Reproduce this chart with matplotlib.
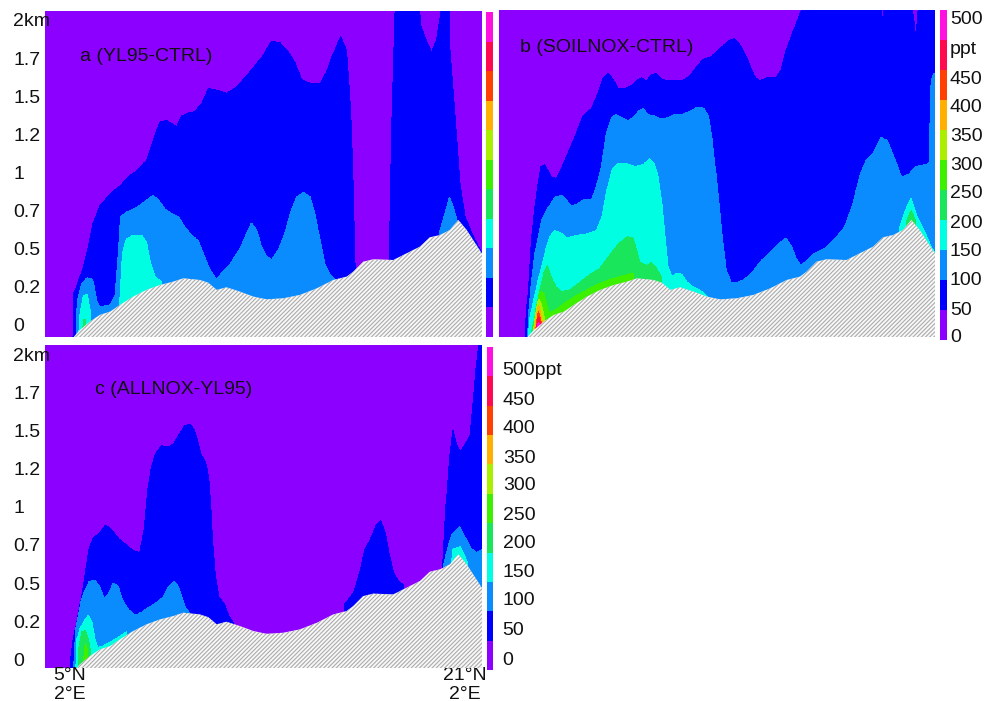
import numpy as np
import matplotlib
matplotlib.use("Agg")
import matplotlib.pyplot as plt

plt.rcParams['font.family'] = ['Liberation Sans', 'DejaVu Sans']
plt.rcParams['hatch.linewidth'] = 0.8

B = -0.3    # level absent in this column (below ground)
T = 2.3     # level reaches above the top of the plot

# ---- contour intervals (ppt) and colours ----
LEVELS = [0, 50, 100, 150, 200, 250, 300, 350, 400, 450, 500, 550]
COLORS = ['#8c00ff', '#0000ff', '#0a8cff', '#00ffe2', '#19e65a', '#3cf000',
          '#aaee00', '#ffb000', '#ff4000', '#ff0a50', '#ff10e0']

# ---- terrain height (lat °N, km) ----
TERRAIN = [(3.90, B), (5.12, B), (5.16, -0.077), (5.40, -0.033), (5.81, 0.022), (6.21, 0.066),
           (6.62, 0.087), (7.02, 0.131), (7.56, 0.186), (8.10, 0.230), (8.64, 0.262),
           (9.18, 0.284), (9.59, 0.306), (10.26, 0.295), (10.60, 0.277), (10.94, 0.230),
           (11.34, 0.247), (11.88, 0.219), (12.42, 0.186), (12.96, 0.168), (13.64, 0.175),
           (14.31, 0.197), (14.99, 0.240), (15.66, 0.295), (16.20, 0.317), (16.47, 0.350),
           (16.87, 0.415), (17.28, 0.431), (18.09, 0.426), (18.63, 0.470), (19.17, 0.514),
           (19.57, 0.575), (19.98, 0.590), (20.38, 0.623), (20.72, 0.689), (21.06, 0.623),
           (21.67, 0.470), (21.80, 0.450)]

# ---- panel a: top height (km) of the region above each level ----
A_50 = [(3.9, B), (5.10, B), (5.16, 0.21), (5.27, 0.25), (5.54, 0.38), (5.74, 0.51), (5.94, 0.67),
        (6.21, 0.78), (6.62, 0.86), (7.02, 0.91), (7.43, 0.98), (7.70, 1.01), (8.10, 1.08),
        (8.37, 1.21), (8.64, 1.33), (8.91, 1.34), (9.32, 1.30), (9.52, 1.37), (9.79, 1.39),
        (10.06, 1.40), (10.33, 1.45), (10.60, 1.55), (10.94, 1.54), (11.34, 1.52), (11.75, 1.56),
        (12.29, 1.66), (12.83, 1.77), (13.16, 1.86), (13.50, 1.85), (13.84, 1.79), (14.11, 1.72),
        (14.38, 1.61), (14.78, 1.58), (15.12, 1.58), (15.39, 1.66), (15.66, 1.78), (15.96, 1.89),
        (16.20, 1.80), (16.34, 1.48), (16.44, 1.04), (16.54, 0.38), (16.62, B), (17.86, B),
        (17.93, 0.45), (18.02, 1.26), (18.16, 2.04), (18.25, T), (19.04, T), (19.20, 1.96),
        (19.44, 1.86), (19.64, 1.79), (19.84, 1.87), (20.01, 2.04), (20.11, T), (20.32, T),
        (20.38, 1.80), (20.59, 1.37), (20.79, 0.93), (20.99, 0.71), (21.33, 0.58), (21.67, 0.47),
        (21.80, 0.45)]
A_100 = [(3.9, B), (5.22, B), (5.30, 0.16), (5.47, 0.27), (5.70, 0.31), (5.92, 0.30), (6.08, 0.16),
         (6.21, 0.12), (6.62, 0.13), (6.82, 0.19), (6.96, 0.47), (7.05, 0.71), (7.29, 0.74),
         (7.70, 0.77), (8.10, 0.82), (8.37, 0.85), (8.58, 0.82), (8.85, 0.76), (9.12, 0.73),
         (9.39, 0.71), (9.66, 0.64), (9.93, 0.59), (10.20, 0.55), (10.40, 0.47), (10.67, 0.36),
         (10.94, 0.30), (11.14, 0.34), (11.48, 0.40), (11.88, 0.50), (12.15, 0.60), (12.35, 0.67),
         (12.56, 0.62), (12.76, 0.51), (12.96, 0.45), (13.16, 0.43), (13.43, 0.49), (13.70, 0.60),
         (13.91, 0.73), (14.18, 0.84), (14.45, 0.87), (14.72, 0.84), (14.92, 0.73), (15.12, 0.56),
         (15.32, 0.40), (15.53, 0.33), (15.73, 0.30), (15.86, B), (19.84, B), (19.95, 0.60),
         (20.18, 0.73), (20.36, 0.84), (20.52, 0.77), (20.68, 0.68), (20.79, B), (21.8, B)]
A_150 = [(3.9, B), (5.30, B), (5.38, 0.05), (5.54, 0.19), (5.70, 0.20), (5.84, 0.08), (5.94, B),
         (6.95, B), (7.02, 0.16), (7.13, 0.47), (7.27, 0.56), (7.56, 0.59), (7.90, 0.59),
         (8.10, 0.54), (8.27, 0.40), (8.44, 0.32), (8.71, 0.28), (8.91, B), (21.8, B)]
A_200 = [(3.9, B), (5.45, B), (5.54, 0.04), (5.64, 0.03), (5.74, B), (21.8, B)]

# ---- panel b ----
B_50 = [(3.9, B), (5.02, B), (5.07, -0.01), (5.10, 0.10), (5.18, 0.21), (5.31, 0.56), (5.51, 0.86),
        (5.69, 1.04), (5.85, 1.05), (6.12, 0.97), (6.32, 0.96), (6.53, 1.03), (6.80, 1.13),
        (7.13, 1.26), (7.40, 1.37), (7.74, 1.42), (8.01, 1.52), (8.21, 1.62), (8.42, 1.65),
        (8.62, 1.61), (8.82, 1.55), (9.09, 1.55), (9.36, 1.57), (9.56, 1.60), (9.77, 1.62),
        (9.97, 1.60), (10.17, 1.64), (10.37, 1.65), (10.58, 1.61), (10.98, 1.60), (11.39, 1.60),
        (11.72, 1.63), (11.99, 1.69), (12.26, 1.74), (12.60, 1.76), (12.94, 1.81), (13.27, 1.86),
        (13.54, 1.88), (13.81, 1.83), (14.08, 1.74), (14.35, 1.63), (14.56, 1.60), (14.83, 1.62),
        (15.23, 1.62), (15.43, 1.67), (15.64, 1.80), (15.91, 1.92), (16.11, 2.00), (16.27, 2.07),
        (16.45, T), (19.35, T), (19.55, 1.99), (19.73, T), (20.63, T), (20.90, 1.87), (21.10, T),
        (21.8, T)]
B_100 = [(3.9, B), (5.12, B), (5.18, 0.05), (5.29, 0.25), (5.45, 0.47), (5.72, 0.69), (5.99, 0.77),
         (6.26, 0.84), (6.53, 0.85), (6.73, 0.82), (6.91, 0.78), (7.13, 0.79), (7.40, 0.82),
         (7.74, 0.82), (7.94, 0.91), (8.15, 1.04), (8.35, 1.26), (8.55, 1.36), (8.75, 1.38),
         (8.96, 1.36), (9.23, 1.34), (9.43, 1.36), (9.63, 1.40), (9.83, 1.42), (10.04, 1.38),
         (10.31, 1.37), (10.58, 1.35), (10.85, 1.36), (11.12, 1.38), (11.39, 1.38), (11.72, 1.40),
         (12.06, 1.43), (12.30, 1.42), (12.49, 1.37), (12.63, 1.23), (12.76, 1.04), (12.90, 0.82),
         (13.03, 0.60), (13.21, 0.36), (13.41, 0.28), (13.68, 0.28), (13.95, 0.30), (14.29, 0.35),
         (14.62, 0.42), (15.03, 0.48), (15.37, 0.54), (15.64, 0.57), (15.84, 0.52), (16.04, 0.44),
         (16.24, 0.39), (16.45, 0.42), (16.79, 0.47), (17.19, 0.50), (17.59, 0.56), (18.00, 0.64),
         (18.34, 0.79), (18.65, 0.99), (18.88, 1.08), (19.15, 1.12), (19.48, 1.23), (19.75, 1.21),
         (20.02, 1.10), (20.32, 0.97), (20.63, 0.99), (20.90, 1.04), (21.24, 1.05), (21.44, 1.06),
         (21.53, 1.61), (21.64, 1.65), (21.8, 1.65)]
B_150 = [(3.9, B), (5.15, B), (5.22, 0.03), (5.35, 0.12), (5.55, 0.28), (5.72, 0.38), (5.90, 0.50),
         (6.05, 0.58), (6.26, 0.62), (6.53, 0.60), (6.73, 0.57), (6.96, 0.58), (7.27, 0.59),
         (7.61, 0.60), (7.94, 0.62), (8.17, 0.71), (8.39, 0.90), (8.58, 1.02), (8.82, 1.06),
         (9.16, 1.06), (9.50, 1.04), (9.83, 1.05), (10.10, 1.09), (10.28, 1.06), (10.44, 0.98),
         (10.58, 0.82), (10.71, 0.60), (10.85, 0.38), (11.01, 0.32), (11.23, 0.34), (11.41, 0.33),
         (11.63, 0.28), (11.86, 0.25), (12.12, 0.23), (12.35, 0.20), (12.53, 0.17), (12.67, B),
         (20.16, B), (20.25, 0.64), (20.40, 0.72), (20.55, 0.78), (20.71, 0.83), (20.85, 0.76),
         (20.95, 0.71), (21.15, 0.65), (21.32, 0.59), (21.56, 0.50), (21.66, 0.48), (21.8, B)]
B_200 = [(3.9, B), (5.30, B), (5.31, -0.05), (5.45, 0.05), (5.62, 0.21), (5.81, 0.34), (5.95, 0.39),
         (6.12, 0.31), (6.30, 0.25), (6.53, 0.22), (6.86, 0.23), (7.27, 0.28), (7.67, 0.33),
         (8.08, 0.37), (8.48, 0.46), (8.89, 0.54), (9.21, 0.58), (9.42, 0.57), (9.58, 0.49),
         (9.70, 0.41), (9.98, 0.39), (10.18, 0.41), (10.39, 0.37), (10.59, 0.31), (10.70, B),
         (20.45, B), (20.52, 0.68), (20.71, 0.75), (20.88, 0.69), (20.95, B), (21.8, B)]
B_250 = [(3.9, B), (5.36, B), (5.38, -0.03), (5.49, 0.10), (5.65, 0.22), (5.81, 0.21), (5.95, 0.12),
         (6.05, 0.08), (6.30, 0.10), (6.80, 0.16), (7.27, 0.205), (7.67, 0.24), (8.08, 0.273),
         (8.48, 0.298), (8.89, 0.317), (9.21, 0.33), (9.45, 0.34), (9.60, B), (21.8, B)]
B_300 = [(3.9, B), (5.38, B), (5.40, -0.03), (5.50, 0.12), (5.60, 0.17), (5.70, 0.14), (5.80, 0.07),
         (5.90, 0.0), (5.95, B), (21.8, B)]
B_350 = [(3.9, B), (5.42, B), (5.44, -0.03), (5.52, 0.08), (5.59, 0.13), (5.66, 0.09), (5.76, 0.01),
         (5.80, B), (21.8, B)]
B_400 = [(3.9, B), (5.45, B), (5.47, -0.03), (5.54, 0.05), (5.59, 0.09), (5.64, 0.06), (5.72, 0.0),
         (5.75, B), (21.8, B)]
B_450 = [(3.9, B), (5.47, B), (5.49, -0.03), (5.55, 0.03), (5.59, 0.06), (5.63, 0.035), (5.69, -0.01),
         (5.71, B), (21.8, B)]
B_500 = [(3.9, B), (5.50, B), (5.52, -0.03), (5.57, 0.01), (5.60, 0.02), (5.63, 0.0), (5.65, B),
         (21.8, B)]

# ---- panel c ----
C_50 = [(3.9, B), (4.98, B), (5.03, 0.0), (5.13, 0.13), (5.25, 0.22), (5.40, 0.34), (5.60, 0.54),
        (5.78, 0.73), (5.96, 0.80), (6.15, 0.82), (6.45, 0.88), (6.68, 0.85), (6.98, 0.79),
        (7.35, 0.74), (7.61, 0.71), (7.83, 0.70), (8.00, 0.85), (8.15, 1.11), (8.30, 1.26),
        (8.48, 1.35), (8.70, 1.40), (8.96, 1.39), (9.18, 1.41), (9.41, 1.47), (9.65, 1.53),
        (9.86, 1.54), (10.01, 1.51), (10.16, 1.44), (10.31, 1.34), (10.50, 1.29), (10.62, 1.18),
        (10.70, 1.00), (10.77, 0.78), (10.88, 0.56), (11.03, 0.41), (11.25, 0.36), (11.45, 0.28),
        (11.60, 0.25), (11.75, B), (15.95, B), (16.12, 0.36), (16.49, 0.44), (16.75, 0.58),
        (16.94, 0.72), (17.17, 0.79), (17.40, 0.88), (17.59, 0.91), (17.77, 0.82), (17.92, 0.69),
        (18.10, 0.57), (18.30, 0.51), (18.49, 0.49), (18.65, B), (19.97, B), (20.10, 0.64),
        (20.22, 1.00), (20.36, 1.31), (20.50, 1.50), (20.65, 1.41), (20.80, 1.36), (21.00, 1.41),
        (21.19, 1.46), (21.31, 1.66), (21.45, 1.92), (21.55, 2.05), (21.64, T), (21.8, T)]
C_100 = [(3.9, B), (5.10, B), (5.18, 0.04), (5.25, 0.21), (5.40, 0.36), (5.55, 0.43), (5.78, 0.51),
         (6.00, 0.52), (6.20, 0.48), (6.38, 0.40), (6.56, 0.43), (6.75, 0.50), (6.95, 0.48),
         (7.13, 0.39), (7.35, 0.33), (7.65, 0.29), (7.91, 0.31), (8.18, 0.34), (8.48, 0.37),
         (8.78, 0.41), (9.00, 0.48), (9.23, 0.51), (9.38, 0.48), (9.53, 0.41), (9.68, 0.34),
         (9.83, 0.31), (9.98, B), (20.00, B), (20.13, 0.62), (20.29, 0.73), (20.47, 0.82),
         (20.77, 0.87), (21.00, 0.80), (21.22, 0.73), (21.45, 0.70), (21.67, 0.72), (21.8, 0.72)]
C_150 = [(3.9, B), (5.20, B), (5.28, 0.13), (5.40, 0.20), (5.60, 0.26), (5.75, 0.29), (5.90, 0.24),
         (6.00, 0.14), (6.11, 0.08), (6.30, 0.085), (6.68, 0.12), (7.00, 0.15), (7.28, 0.18),
         (7.45, B), (20.35, B), (20.47, 0.72), (20.65, 0.73), (20.80, 0.74), (20.95, 0.69),
         (21.07, 0.64), (21.15, B), (21.8, B)]
C_200 = [(3.9, B), (5.28, B), (5.36, 0.08), (5.48, 0.18), (5.63, 0.19), (5.75, 0.13), (5.85, 0.04),
         (5.92, B), (21.8, B)]
C_250 = [(3.9, B), (5.50, B), (5.58, 0.08), (5.65, 0.10), (5.72, 0.05), (5.78, B), (21.8, B)]

PANEL_A = [A_50, A_100, A_150, A_200]
PANEL_B = [B_50, B_100, B_150, B_200, B_250, B_300, B_350, B_400, B_450, B_500]
PANEL_C = [C_50, C_100, C_150, C_200, C_250]

TITLES = ['a (YL95-CTRL)', 'b (SOILNOX-CTRL)', 'c (ALLNOX-YL95)']
Y_TICKS = [0, 0.25, 0.5, 0.75, 1.0, 1.25, 1.5, 1.75, 2.0]
Y_LABELS = ['0', '0.2', '0.5', '0.7', '1', '1.2', '1.5', '1.7', '2km']
X_TICKS = [5, 21]
X_LABELS = ['5°N\n2°E', '21°N\n2°E']
CB_B_TICKS = [8, 53, 102, 150, 198, 247, 295, 342, 390, 438, 487, 537]
CB_B_LABELS = ['0', '50', '100', '150', '200', '250', '300', '350', '400', '450', 'ppt', '500']
CB_C_TICKS = [20, 70, 121, 169, 218, 267, 317, 364, 414, 462, 514]
CB_C_LABELS = ['0', '50', '100', '150', '200', '250', '300', '350', '400', '450', '500ppt']

XLIM = (3.99, 21.68)

lat = np.linspace(3.9, 21.8, 1300)
zz = np.linspace(-0.12, 2.12, 900)


def field_from(bounds):
    f = np.full((zz.size, lat.size), 25.0)
    Z = zz[:, None]
    for pts in bounds:
        px, py = zip(*pts)
        h = np.interp(lat, px, py)
        f += 50.0 * (Z < h[None, :])
    return f


tx, ty = zip(*TERRAIN)
terr = np.interp(lat, tx, ty)

W, H = 986, 701
fig = plt.figure(figsize=(W / 100, H / 100), dpi=100)


def rect(x0, y0, x1, y1):
    return [x0 / W, (H - y1) / H, (x1 - x0) / W, (y1 - y0) / H]


ax_a = fig.add_axes(rect(45, 11, 482, 337))
ax_b = fig.add_axes(rect(499, 10, 935, 337))
ax_c = fig.add_axes(rect(45, 345, 482, 668))
cax_a = fig.add_axes(rect(486, 12, 493, 337))
cax_b = fig.add_axes(rect(940, 10, 947, 340))
cax_c = fig.add_axes(rect(487, 347, 493, 670))

ylims = [(-0.079, 2.059), (-0.079, 2.066), (-0.056, 2.059)]
title_pos = [(0.080, 0.859), (0.048, 0.884), (0.114, 0.861)]

for ax, bounds, title, yl, tp in zip([ax_a, ax_b, ax_c], [PANEL_A, PANEL_B, PANEL_C],
                                     TITLES, ylims, title_pos):
    f = field_from(bounds)
    cf = ax.contourf(lat, zz, f, levels=LEVELS, colors=COLORS, zorder=1)
    ax.fill_between(lat, -0.5, terr, facecolor='#f8f8f8', edgecolor='#ababab',
                    hatch='////////', linewidth=0, zorder=3)
    ax.set_xlim(*XLIM)
    ax.set_ylim(*yl)
    for s in ax.spines.values():
        s.set_visible(False)
    ax.text(tp[0], tp[1], title, transform=ax.transAxes, fontsize=14, va='center',
            ha='left', color='#111111', zorder=5)
    ax.tick_params(length=0)
    if ax is ax_b:
        ax.set_yticks([])
    else:
        ax.set_yticks(Y_TICKS)
        ax.set_yticklabels(Y_LABELS, ha='left', fontsize=14, color='#111111')
        ax.tick_params(axis='y', pad=23)
    if ax is ax_c:
        ax.set_xticks(X_TICKS)
        ax.set_xticklabels(X_LABELS, fontsize=14, color='#111111', linespacing=1.15)
        ax.tick_params(axis='x', pad=-1)
    else:
        ax.set_xticks([])

    if ax is ax_a:
        cax, ticks, labels, pad = cax_a, [], [], 0
    elif ax is ax_b:
        cax, ticks, labels, pad = cax_b, CB_B_TICKS, CB_B_LABELS, 2
    else:
        cax, ticks, labels, pad = cax_c, CB_C_TICKS, CB_C_LABELS, 7
    cb = fig.colorbar(cf, cax=cax)
    cb.outline.set_visible(False)
    cb.set_ticks(ticks)
    cb.set_ticklabels(labels)
    cax.tick_params(length=0, pad=pad, labelsize=14, labelcolor='#111111')

fig.savefig('out.png', dpi=100, facecolor='white')
